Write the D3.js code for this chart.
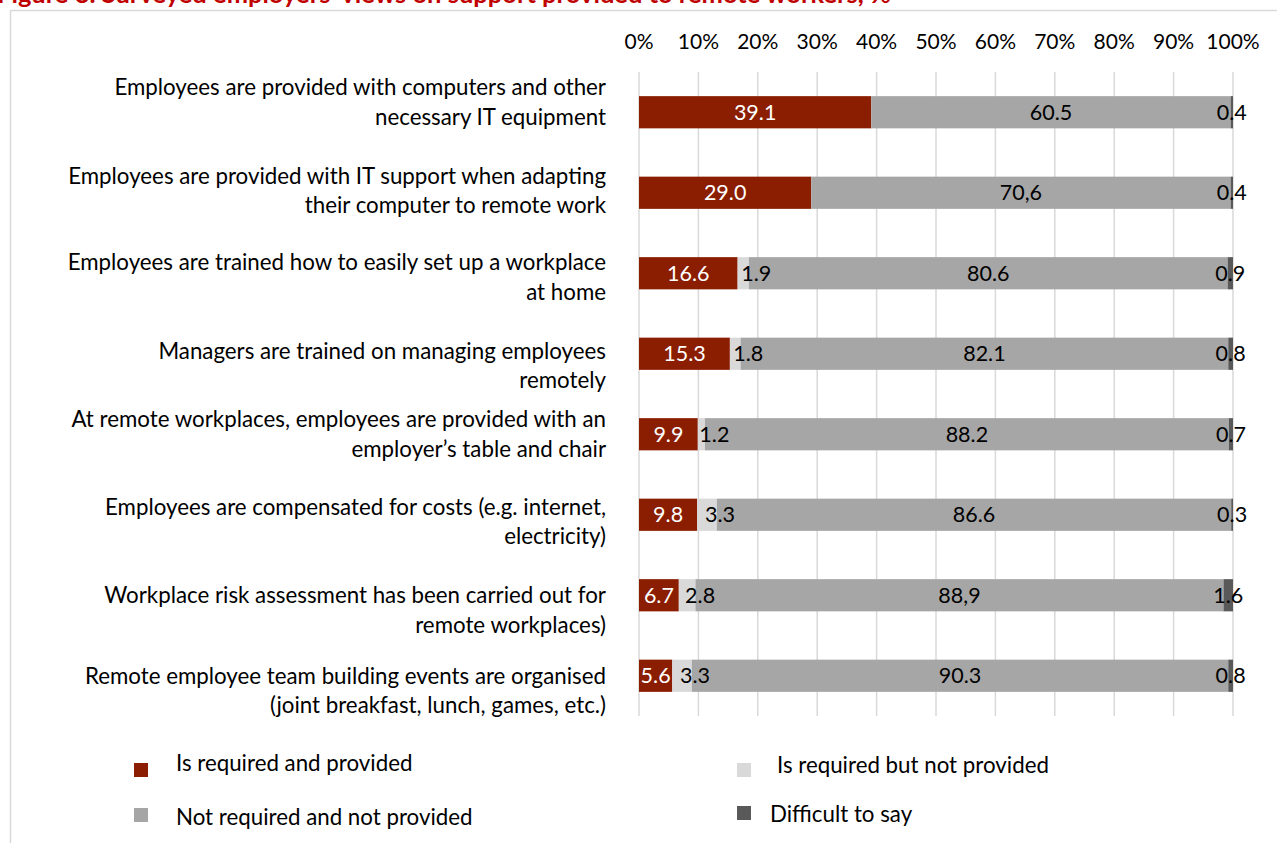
<!DOCTYPE html>
<html>
<head>
<meta charset="utf-8">
<script src="https://cdn.jsdelivr.net/npm/d3@7"></script>
<style>
  body { margin: 0; background: #fff; }
  svg { display: block; font-family: Lato, "Open Sans", sans-serif; }
</style>
</head>
<body>
<div id="chart-area"></div>
<script>
const categories = [
    "Employees are provided with computers and other\nnecessary IT equipment",
    "Employees are provided with IT support when adapting\ntheir computer to remote work",
    "Employees are trained how to easily set up a workplace\nat home",
    "Managers are trained on managing employees\nremotely",
    "At remote workplaces, employees are provided with an\nemployer\u2019s table and chair",
    "Employees are compensated for costs (e.g. internet,\nelectricity)",
    "Workplace risk assessment has been carried out for\nremote workplaces)",
    "Remote employee team building events are organised\n(joint breakfast, lunch, games, etc.)"
];

const requiredProvided = [39.1, 29.0, 16.6, 15.3, 9.9, 9.8, 6.7, 5.6];
const requiredNotProvided = [0, 0, 1.9, 1.8, 1.2, 3.3, 2.8, 3.3];
const notRequired = [60.5, 70.6, 80.6, 82.1, 88.2, 86.6, 88.9, 90.3];
const difficult = [0.4, 0.4, 0.9, 0.8, 0.7, 0.3, 1.6, 0.8];

// labels as printed in the source (some use a comma)
const notRequiredLabels = ["60.5", "70,6", "80.6", "82.1", "88.2", "86.6", "88,9", "90.3"];

const ticks = [0, 10, 20, 30, 40, 50, 60, 70, 80, 90, 100];

const seriesNames = ["Is required and provided", "Is required but not provided",
    "Not required and not provided", "Difficult to say"];
const keys = ["rp", "rnp", "nr", "dk"];
const colors = ["#8b1d00", "#d9d9d9", "#a6a6a6", "#595959"];

// the category labels in the source sit a bit above their bars, unevenly
const labelShift = [-25, -17, -11, -3, -15, -8, 0, 0];

const width = 1277, height = 843;

const svg = d3.select("#chart-area")
    .append("svg")
    .attr("width", width)
    .attr("height", height);

// frame
svg.append("rect")
    .attr("x", 10.5).attr("y", 10.5)
    .attr("width", width + 20).attr("height", height + 20)
    .attr("fill", "none")
    .attr("stroke", "#d9d9d9")
    .attr("stroke-width", 1.5);

// title (cut off at the top in the source)
svg.append("text")
    .attr("x", -3).attr("y", 3)
    .attr("fill", "#c00000")
    .attr("font-weight", "bold")
    .attr("font-size", 25.5)
    .text("Figure 3. Surveyed employers\u2019 views on support provided to remote workers, %");

const table = categories.map((c, i) => ({
    cat: c,
    rp: requiredProvided[i],
    rnp: requiredNotProvided[i],
    nr: notRequired[i],
    dk: difficult[i],
    nrLabel: notRequiredLabels[i]
}));

const x = d3.scaleLinear().domain([0, 100]).range([639, 1233]);
const y = d3.scaleBand().domain(categories).range([72, 716])
    .paddingInner(0.6).paddingOuter(0.3);

// gridlines
svg.append("g")
    .selectAll("line")
    .data(ticks)
    .join("line")
    .attr("x1", d => x(d)).attr("x2", d => x(d))
    .attr("y1", 72).attr("y2", 716)
    .attr("stroke", "#d9d9d9")
    .attr("stroke-width", 1.5);

// top axis labels
svg.append("g")
    .selectAll("text")
    .data(ticks)
    .join("text")
    .attr("x", d => x(d))
    .attr("y", 42)
    .attr("dy", "0.35em")
    .attr("text-anchor", "middle")
    .attr("font-size", 21)
    .attr("fill", "#000")
    .text(d => d + "%");

// category labels
svg.append("g")
    .selectAll("text")
    .data(categories)
    .join("text")
    .attr("text-anchor", "end")
    .attr("font-size", 22.3)
    .attr("fill", "#000")
    .each(function (d, k) {
        const lines = d.split("\n");
        const top = y(d) + y.bandwidth() / 2 + labelShift[k];
        d3.select(this).selectAll("tspan")
            .data(lines)
            .join("tspan")
            .attr("x", 606)
            .attr("y", (l, i) => top + i * 29.5)
            .attr("dy", "0.35em")
            .text(l => l);
    });

const stack = d3.stack().keys(keys);
const stacked = stack(table);

const layers = svg.append("g")
    .selectAll("g")
    .data(stacked)
    .join("g")
    .attr("fill", (d, i) => colors[i]);

layers.selectAll("rect")
    .data(d => d)
    .join("rect")
    .attr("x", d => x(d[0]))
    .attr("y", d => y(d.data.cat))
    .attr("width", d => x(d[1]) - x(d[0]))
    .attr("height", y.bandwidth());

// value labels
const labels = svg.append("g").attr("font-size", 21.5);

stacked.forEach((layer, li) => {
    labels.selectAll(null)
        .data(layer.filter(d => d[1] - d[0] > 0))
        .join("text")
        .attr("x", d => {
            const mid = (x(d[0]) + x(d[1])) / 2;
            return li === 1 ? mid - 2 : mid;
        })
        .attr("y", d => y(d.data.cat) + y.bandwidth() / 2)
        .attr("dy", "0.35em")
        .attr("text-anchor", li === 1 ? "start" : "middle")
        .attr("fill", li === 0 ? "#fff" : "#000")
        .text(d => {
            if (li === 2) return d.data.nrLabel;
            return d3.format(".1f")(d[1] - d[0]);
        });
});

// legend
const legendItems = [
    { name: seriesNames[0], color: colors[0], sx: 134, sy: 763, tx: 176, ty: 763 },
    { name: seriesNames[1], color: colors[1], sx: 737, sy: 763, tx: 777, ty: 765 },
    { name: seriesNames[2], color: colors[2], sx: 134, sy: 808, tx: 176, ty: 817 },
    { name: seriesNames[3], color: colors[3], sx: 737, sy: 806, tx: 770, ty: 814 }
];

const legend = svg.append("g");
legend.selectAll("rect")
    .data(legendItems)
    .join("rect")
    .attr("x", d => d.sx).attr("y", d => d.sy)
    .attr("width", 14).attr("height", 14)
    .attr("fill", d => d.color);

legend.selectAll("text")
    .data(legendItems)
    .join("text")
    .attr("x", d => d.tx).attr("y", d => d.ty)
    .attr("dy", "0.35em")
    .attr("font-size", 22.3)
    .attr("fill", "#000")
    .text(d => d.name);
</script>
</body>
</html>
